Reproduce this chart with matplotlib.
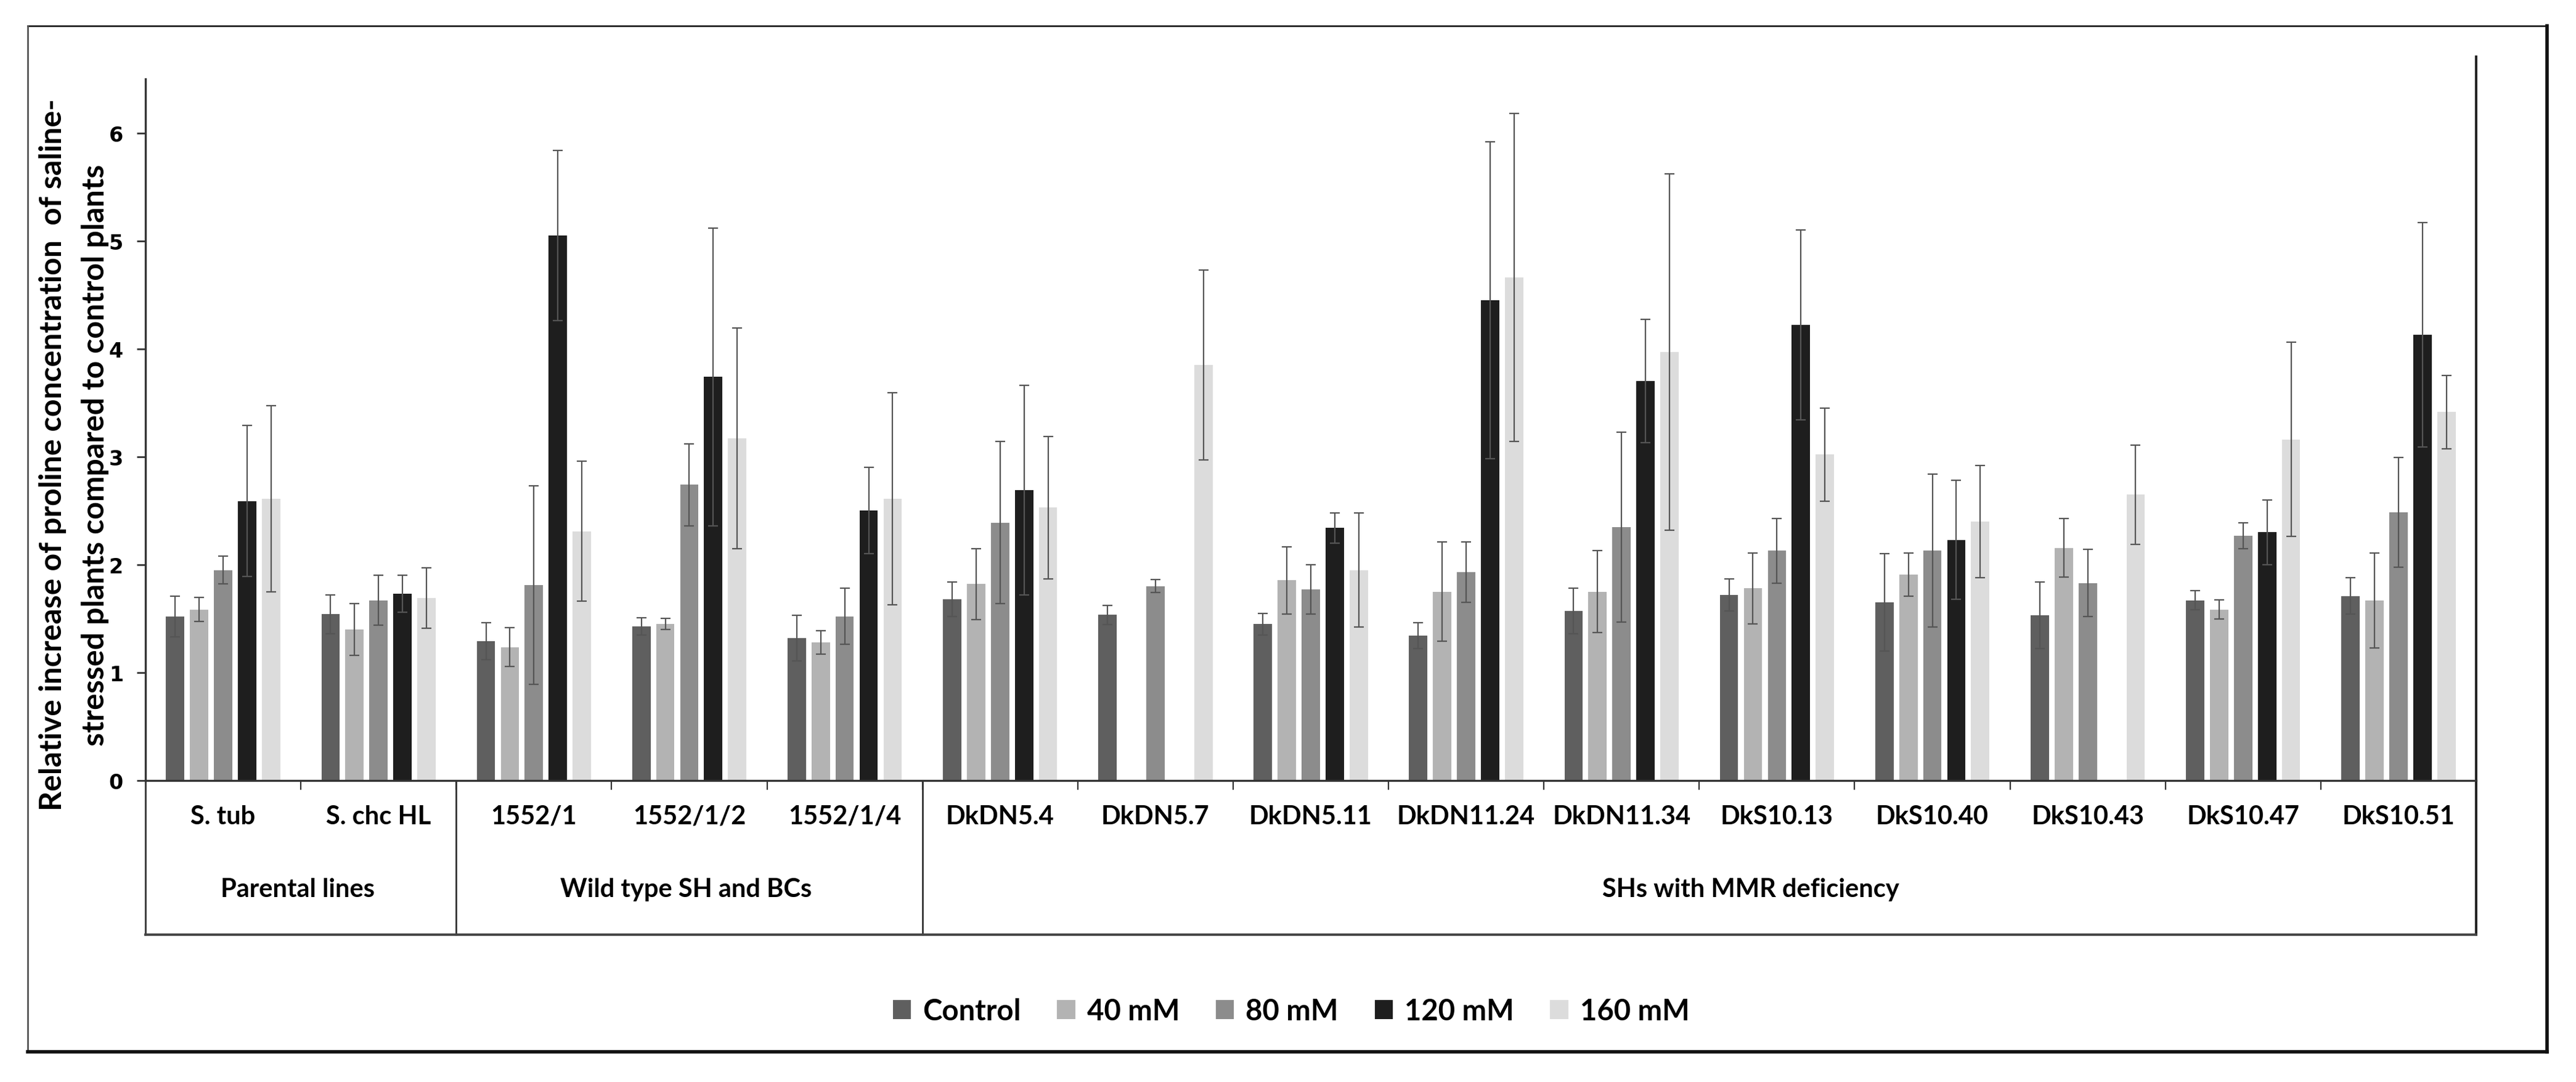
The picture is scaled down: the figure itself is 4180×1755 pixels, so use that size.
import numpy as np
import matplotlib
matplotlib.use("Agg")
import matplotlib.pyplot as plt
from matplotlib.lines import Line2D

plt.rcParams['font.family'] = ['Lato', 'DejaVu Sans']
plt.rcParams['font.weight'] = 'bold'

nan = np.nan

categories = ['S. tub', 'S. chc HL', '1552/1', '1552/1/2', '1552/1/4',
              'DkDN5.4', 'DkDN5.7', 'DkDN5.11', 'DkDN11.24', 'DkDN11.34',
              'DkS10.13', 'DkS10.40', 'DkS10.43', 'DkS10.47', 'DkS10.51']
groups = ['Parental lines', 'Wild type SH and BCs', 'SHs with MMR deficiency']
group_sizes = [2, 3, 10]

series_names = ['Control', '40 mM', '80 mM', '120 mM', '160 mM']

control = [1.52, 1.54, 1.29, 1.43, 1.32, 1.68, 1.535, 1.45, 1.34, 1.57, 1.72, 1.65, 1.53, 1.67, 1.71]
control_err = [0.19, 0.18, 0.17, 0.08, 0.21, 0.16, 0.09, 0.10, 0.12, 0.21, 0.15, 0.45, 0.31, 0.09, 0.17]
mm40 = [1.585, 1.40, 1.235, 1.45, 1.28, 1.82, nan, 1.855, 1.75, 1.75, 1.78, 1.91, 2.155, 1.585, 1.67]
mm40_err = [0.11, 0.24, 0.18, 0.05, 0.11, 0.33, nan, 0.31, 0.46, 0.38, 0.33, 0.20, 0.27, 0.09, 0.44]
mm80 = [1.95, 1.67, 1.81, 2.74, 1.52, 2.39, 1.80, 1.77, 1.93, 2.35, 2.13, 2.13, 1.83, 2.27, 2.485]
mm80_err = [0.13, 0.23, 0.92, 0.38, 0.26, 0.75, 0.06, 0.23, 0.28, 0.88, 0.30, 0.71, 0.31, 0.12, 0.51]
mm120 = [2.59, 1.73, 5.05, 3.74, 2.50, 2.69, nan, 2.34, 4.45, 3.70, 4.22, 2.23, nan, 2.30, 4.13]
mm120_err = [0.70, 0.17, 0.79, 1.38, 0.40, 0.97, nan, 0.14, 1.47, 0.57, 0.88, 0.55, nan, 0.30, 1.04]
mm160 = [2.61, 1.69, 2.31, 3.17, 2.61, 2.53, 3.85, 1.95, 4.66, 3.97, 3.02, 2.40, 2.65, 3.16, 3.415]
mm160_err = [0.86, 0.28, 0.65, 1.02, 0.98, 0.66, 0.88, 0.53, 1.52, 1.65, 0.43, 0.52, 0.46, 0.90, 0.34]

values = [control, mm40, mm80, mm120, mm160]
errors = [control_err, mm40_err, mm80_err, mm120_err, mm160_err]
colors = ['#5f5f5f', '#b3b3b3', '#8c8c8c', '#1e1e1e', '#dcdcdc']

W, H = 4180, 1756
fig = plt.figure(figsize=(W / 200, H / 200), dpi=200)
ax = fig.add_axes([236 / W, 1 - 1267 / H, (4018 - 236) / W, (1267 - 129) / H])

x = np.arange(len(categories))
step = 0.1543
width = 0.118
for i, (vals, errs, col, name) in enumerate(zip(values, errors, colors, series_names)):
    pos = x + (i - 2) * step
    ax.bar(pos, vals, width, color=col, label=name, zorder=2)
    ax.errorbar(pos, vals, yerr=errs, fmt='none', ecolor='#555555',
                elinewidth=0.8, capsize=3, capthick=0.8, zorder=3)

ax.set_xlim(-0.5, len(categories) - 0.5)
ax.set_ylim(0, 6.5)
ax.set_yticks(range(7))
ax.tick_params(axis='y', direction='out', length=5, width=1, colors='#333333',
               labelcolor='black', labelsize=12, pad=8)
for lab in ax.get_yticklabels():
    lab.set_fontfamily('DejaVu Sans')
    lab.set_fontweight('bold')

ax.set_xticks(x, categories)
ax.set_xticks(np.arange(0.5, len(categories) - 1), minor=True)
ax.tick_params(axis='x', which='major', length=0, labelsize=15, pad=14)
ax.tick_params(axis='x', which='minor', direction='out', length=5.5, width=0.8,
               colors='#333333')

for side in ['top', 'right']:
    ax.spines[side].set_visible(False)
for side in ['left', 'bottom']:
    ax.spines[side].set_color('#333333')
    ax.spines[side].set_linewidth(1.2)

# the table under the axis
unit = (1267 - 129) / 6.5
y_bottom = -(1517 - 1267) / unit
y_right_top = (1267 - 93) / unit
line_kw = dict(color='#333333', lw=1.0, clip_on=False, zorder=1)
ax.plot([-0.5, -0.5], [0, y_bottom], **line_kw)
ax.plot([1.5, 1.5], [0, y_bottom], **line_kw)
ax.plot([4.5, 4.5], [0, y_bottom], **line_kw)
ax.plot([14.5, 14.5], [y_bottom, y_right_top], color='#222222', lw=1.4, clip_on=False)
ax.plot([-0.5, 14.5], [y_bottom, y_bottom], color='#444444', lw=1.4, clip_on=False)

group_centers = [0.48, 2.98, 9.83]
y_group = -(1443 - 1267) / unit
for name, gx in zip(groups, group_centers):
    ax.text(gx, y_group, name, ha='center', va='center', fontsize=15,
            fontweight='bold')

# y label, two lines
fig.text(86 / W, 1 - 738 / H, 'Relative increase of proline concentration  of saline-',
         rotation=90, ha='center', va='center', fontsize=18, fontweight='bold')
fig.text(155 / W, 1 - 738 / H, 'stressed plants compared to control plants',
         rotation=90, ha='center', va='center', fontsize=18, fontweight='bold')

fig.legend(loc='center', bbox_to_anchor=(2095 / W, 1 - 1641 / H), ncol=5,
           frameon=False, fontsize=17, handlelength=0.62, handleheight=0.62,
           handletextpad=0.4, columnspacing=1.25)

# outer frame
fl, fr, ft, fb = 45 / W, 4133 / W, 1 - 43 / H, 1 - 1707 / H
fig.add_artist(Line2D([fl, fr], [ft, ft], color='#222222', lw=1.0))
fig.add_artist(Line2D([fl, fl], [ft, fb], color='#555555', lw=1.0))
fig.add_artist(Line2D([fr, fr], [ft, fb], color='#111111', lw=2.0))
fig.add_artist(Line2D([fl, fr], [fb, fb], color='#111111', lw=2.0))

fig.savefig('out.png', dpi=200, facecolor='white')
